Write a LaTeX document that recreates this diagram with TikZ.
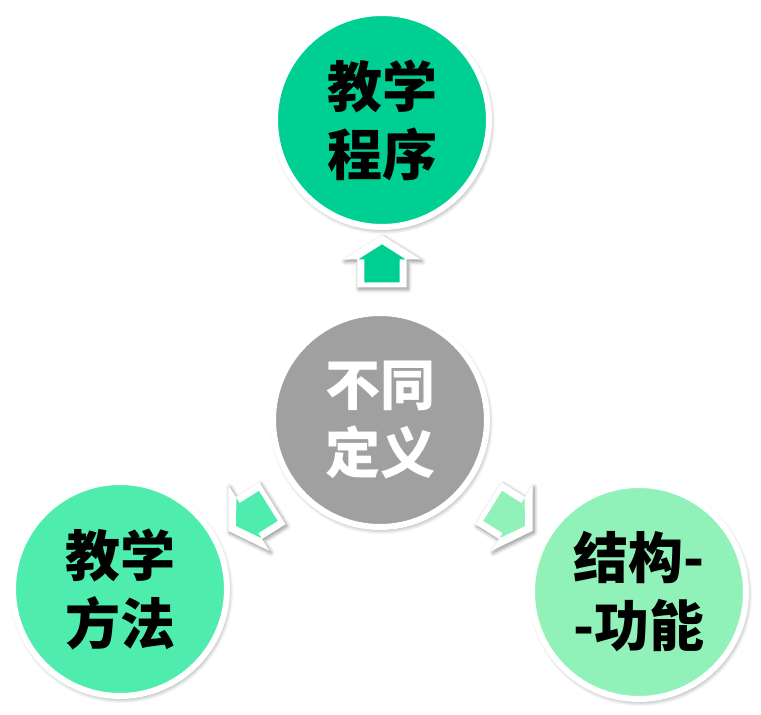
\documentclass[tikz,border=0pt]{standalone}
\usepackage{fontspec}
\newfontfamily\cjk{Noto Sans CJK SC}
\usetikzlibrary{shapes.arrows, shadows.blur}
\definecolor{cTop}{HTML}{00CF93}
\definecolor{cLeft}{HTML}{4EEDAE}
\definecolor{cRight}{HTML}{91F2B9}
\definecolor{cMid}{HTML}{A0A0A0}
\tikzset{
  % round topic nodes with white rim
  C/.style={circle, draw=white, line width=6pt, minimum size=214pt,
    inner sep=0pt, align=center,
    font=\cjk\bfseries\fontsize{55}{68}\selectfont,
    blur shadow={shadow xshift=1.5pt, shadow yshift=-2.5pt,
      shadow blur radius=5pt, shadow blur steps=10, shadow opacity=45}},
  % small block arrows: white backing + coloured arrow on top
  ArO/.style={single arrow, fill=white, inner xsep=0pt, inner ysep=24.5pt,
    minimum height=52pt, single arrow head extend=14pt,
    single arrow tip angle=116,
    blur shadow={shadow xshift=1.5pt, shadow yshift=-2pt,
      shadow blur radius=4pt, shadow blur steps=8, shadow opacity=45}},
  Ar/.style={single arrow, inner xsep=0pt, inner ysep=17.5pt,
    minimum height=38pt, single arrow head extend=6pt,
    single arrow tip angle=115},
}
\begin{document}
\begin{tikzpicture}[x=1pt, y=1pt]
\useasboundingbox (0,0) rectangle (761,-715);

% centre and the three outer topics
\node[C, fill=cMid, text=white] (def) at (380,-420) {不同\\定义};
\node[C, fill=cTop] (prog) at (382,-120) {教学\\程序};
\node[C, fill=cLeft] (meth) at (120,-589) {教学\\方法};
\node[C, fill=cRight] (func) at (639,-592) {结构-\\-功能};

% arrows pointing outwards
\node[ArO, rotate=90] (upAo) at (382,-269) {};
\node[Ar, fill=cTop, rotate=90] (upA) at (upAo) {};
\node[ArO, rotate=212] (leftAo) at (257,-513) {};
\node[Ar, fill=cLeft, rotate=212] (leftA) at (leftAo) {};
\node[ArO, rotate=-32] (rightAo) at (504,-513) {};
\node[Ar, fill=cRight, rotate=-32] (rightA) at (rightAo) {};

\end{tikzpicture}
\end{document}
